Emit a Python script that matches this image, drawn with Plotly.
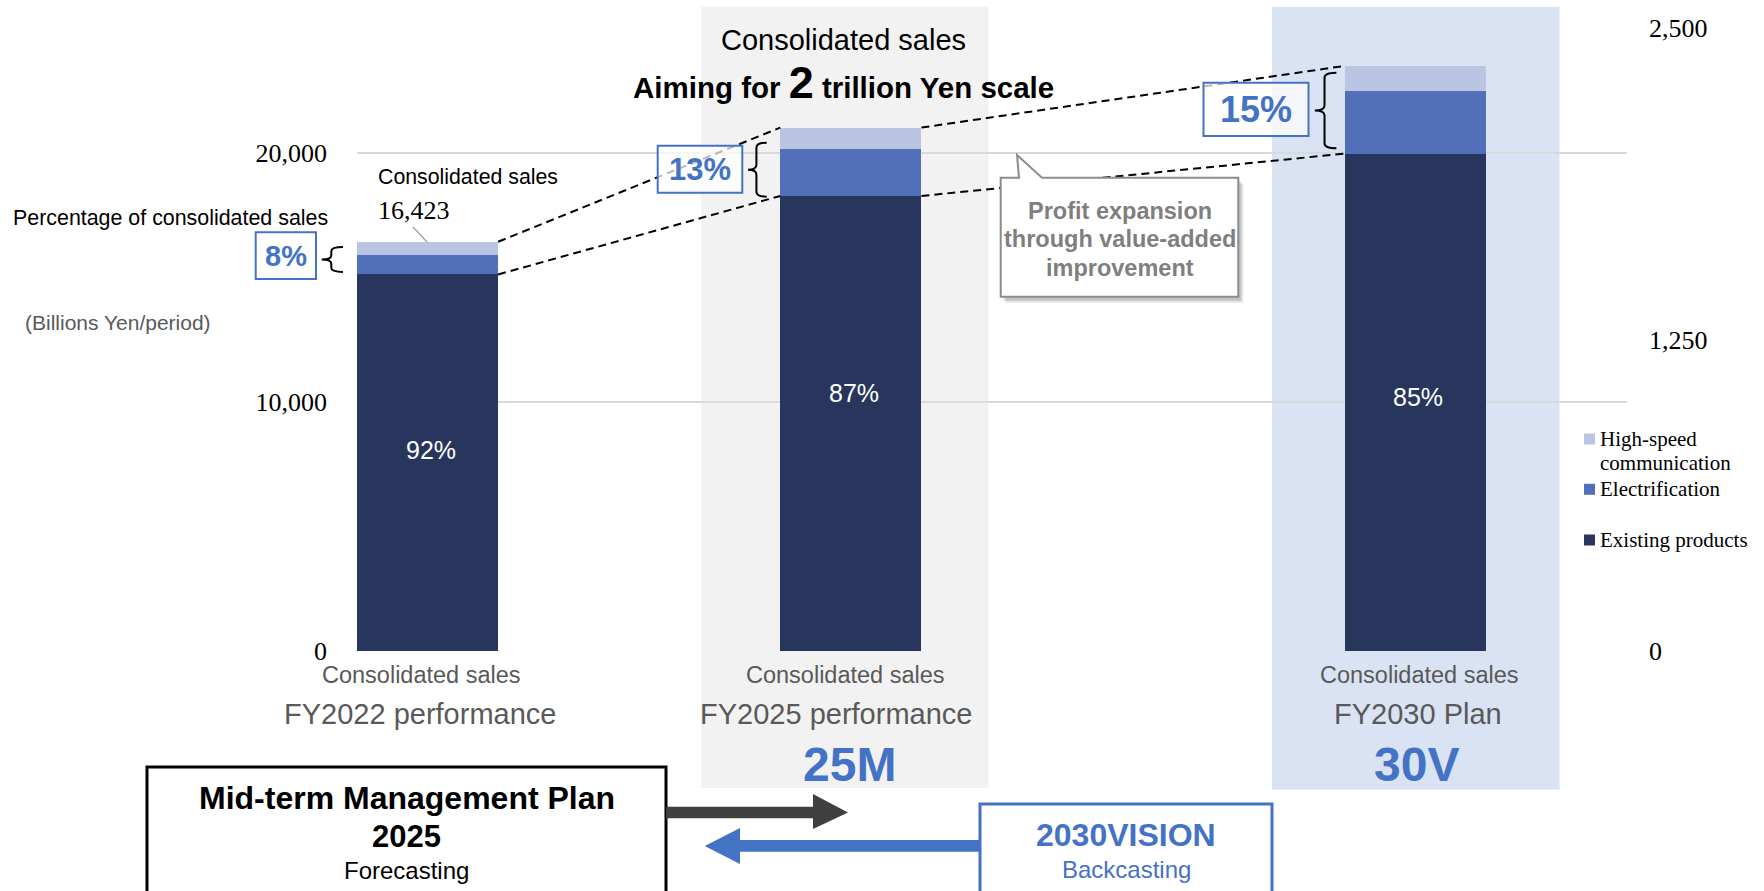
import plotly.graph_objects as go

# ---------------- data ----------------
periods = ["FY2022 performance", "FY2025 performance", "FY2030 Plan"]
period_tags = ["", "25M", "30V"]
sub_label = "Consolidated sales"
series_names = ["Existing products", "Electrification", "High-speed communication"]
existing = [15110, 18260, 19960]
electrification = [800, 1890, 2530]
high_speed = [513, 855, 990]
left_ticks = [0, 10000, 20000]
right_ticks = [0, 1250, 2500]
legend_labels = ["High-speed<br>communication", "Electrification", "Existing products"]

# ---------------- layout constants ----------------
W, H = 1764, 891
ML, MR, MT, MB = 357, 137, 28, 240
PW = W - ML - MR
PH = H - MT - MB
x_pos = [0, 3, 7]
bar_w = 1.0
inbar_label_y = [8060, 10340, 10180]
sub_shift = [-6, -5, 4]
per_shift = [-8, -15, 3]
tag_shift = [0, -1, 1]

SANS = "Liberation Sans, Arial, sans-serif"
SERIF = "Liberation Serif, Times New Roman, serif"
C_EX, C_EL, C_HS = "#28365E", "#5270B9", "#B9C5E3"
BLUE = "#4472C4"
GREY_T = "#595959"


def px(x):
    return (x - ML) / PW


def py(y):
    return (H - MB - y) / PH


def P(x, y):
    return f"{px(x):.5f},{py(y):.5f}"


totals = [a + b + c for a, b, c in zip(existing, electrification, high_speed)]
pct_exist = [round(e / t * 100) for e, t in zip(existing, totals)]
pct_new = [100 - p for p in pct_exist]

fig = go.Figure()
for name, vals, col in zip(series_names, [existing, electrification, high_speed], [C_EX, C_EL, C_HS]):
    fig.add_trace(go.Bar(x=x_pos, y=vals, width=bar_w, name=name, marker_color=col,
                         marker_line_width=0, showlegend=False, hoverinfo="skip"))
# invisible trace to anchor right axis
fig.add_trace(go.Scatter(x=[None], y=[None], yaxis="y2", showlegend=False, hoverinfo="skip"))

shapes = []
annots = []

# highlight panels
shapes.append(dict(type="rect", xref="paper", yref="paper", x0=px(701), x1=px(988.5), y0=py(788), y1=py(6.7),
                   fillcolor="#F2F2F2", line_width=0, layer="below"))
shapes.append(dict(type="rect", xref="paper", yref="paper", x0=px(1272), x1=px(1559.5), y0=py(789.5), y1=py(6.7),
                   fillcolor="#DAE3F3", line_width=0, layer="below"))

# dashed connector lines between bars
for i in range(len(x_pos) - 1):
    for yv in (totals, existing):
        shapes.append(dict(type="line", xref="x", yref="y",
                           x0=x_pos[i] + bar_w / 2, y0=yv[i], x1=x_pos[i + 1] - bar_w / 2, y1=yv[i + 1],
                           line=dict(color="black", width=2, dash="8px,5px")))

# percentage boxes
box_geo = [(255.7, 316, 232.3, 279, 29), (657.7, 742.3, 145.7, 192.7, 31), (1203.5, 1308.5, 82.7, 136, 36)]
for (x0, x1, y0, y1, fs), p in zip(box_geo, pct_new):
    shapes.append(dict(type="rect", xref="paper", yref="paper", x0=px(x0), x1=px(x1), y0=py(y1), y1=py(y0),
                       fillcolor="rgba(255,255,255,0.72)", line=dict(color=BLUE, width=2)))
    annots.append(dict(text=f"<b>{p}%</b>", x=px((x0 + x1) / 2), y=py((y0 + y1) / 2), font=dict(size=fs, color=BLUE, family=SANS)))


def brace(xt, xe, yt, yb):
    xs = xt + 0.45 * (xe - xt)
    ym = (yt + yb) / 2
    r = min(5, (yb - yt) / 6)
    return ("M " + P(xe, yt) + " Q " + P(xs, yt) + " " + P(xs, yt + r) + " L " + P(xs, ym - r) +
            " Q " + P(xs, ym) + " " + P(xt, ym) + " Q " + P(xs, ym) + " " + P(xs, ym + r) +
            " L " + P(xs, yb - r) + " Q " + P(xs, yb) + " " + P(xe, yb))


for b in [(321.7, 343, 247, 272), (748, 766.7, 142.7, 196.7), (1314.8, 1336.4, 72.7, 148.3)]:
    shapes.append(dict(type="path", xref="paper", yref="paper", path=brace(*b), line=dict(color="black", width=2)))

# leader line for total label
shapes.append(dict(type="line", xref="paper", yref="paper", x0=px(413), y0=py(227), x1=px(427), y1=py(242),
                   line=dict(color="#A6A6A6", width=1.5)))

# callout
def callout(dx, dy):
    pts = [(1000.7, 177.7), (1019, 177.7), (1017, 155), (1042, 177.7), (1238.3, 177.7), (1238.3, 296.7), (1000.7, 296.7)]
    return "M " + " L ".join(P(x + dx, y + dy) for x, y in pts) + " Z"


shapes.append(dict(type="path", xref="paper", yref="paper", path=callout(5, 6), fillcolor="rgba(0,0,0,0.10)", line_width=0))
shapes.append(dict(type="path", xref="paper", yref="paper", path=callout(3, 4), fillcolor="rgba(0,0,0,0.15)", line_width=0))
shapes.append(dict(type="path", xref="paper", yref="paper", path=callout(0, 0), fillcolor="white",
                   line=dict(color="#8C8C8C", width=2)))
for t, yy in zip(["Profit expansion", "through value-added", "improvement"], [210.5, 239.3, 268]):
    annots.append(dict(text=f"<b>{t}</b>", x=px(1119.5), y=py(yy), font=dict(size=23.5, color="#7F7F7F", family=SANS)))

# bottom boxes and arrows
shapes.append(dict(type="rect", xref="paper", yref="paper", x0=px(147), x1=px(666), y0=py(905), y1=py(767),
                   fillcolor="white", line=dict(color="black", width=3)))
dark_arrow = [(666, 806.7), (813, 806.7), (813, 794), (848, 812.5), (813, 829), (813, 818.3), (666, 818.3)]
shapes.append(dict(type="path", xref="paper", yref="paper", path="M " + " L ".join(P(*q) for q in dark_arrow) + " Z",
                   fillcolor="#404040", line_width=0))
blue_arrow = [(982, 840), (740, 840), (740, 828), (704.7, 846), (740, 864), (740, 851.7), (982, 851.7)]
shapes.append(dict(type="path", xref="paper", yref="paper", path="M " + " L ".join(P(*q) for q in blue_arrow) + " Z",
                   fillcolor=BLUE, line_width=0))
shapes.append(dict(type="rect", xref="paper", yref="paper", x0=px(980), x1=px(1272), y0=py(905), y1=py(804),
                   fillcolor="white", line=dict(color=BLUE, width=3)))
annots.append(dict(text="<b>Mid-term Management Plan</b>", x=px(406.5), y=py(797.5), font=dict(size=32, color="black", family=SANS)))
annots.append(dict(text="<b>2025</b>", x=px(406.5), y=py(836.7), font=dict(size=31, color="black", family=SANS)))
annots.append(dict(text="Forecasting", x=px(406.5), y=py(870.7), font=dict(size=24, color="black", family=SANS)))
annots.append(dict(text="<b>2030VISION</b>", x=px(1126), y=py(835), font=dict(size=32, color=BLUE, family=SANS)))
annots.append(dict(text="Backcasting", x=px(1126), y=py(869), font=dict(size=24, color=BLUE, family=SANS)))

# titles
annots.append(dict(text="Consolidated sales", x=px(843), y=py(40), font=dict(size=29, color="black", family=SANS)))
annots.append(dict(text="<b>Aiming for <span style='font-size:45px'>2</span> trillion Yen scale</b>",
                   x=px(843), y=py(82.5), font=dict(size=29.5, color="black", family=SANS)))

# left side texts
annots.append(dict(text="Percentage of consolidated sales", x=px(10.5), y=py(218), xanchor="left",
                   font=dict(size=21.4, color="black", family=SANS)))
annots.append(dict(text="(Billions Yen/period)", x=px(22.7), y=py(322.7), xanchor="left",
                   font=dict(size=21, color=GREY_T, family=SANS)))
annots.append(dict(text=sub_label, x=px(376), y=py(177), xanchor="left", font=dict(size=21.3, color="black", family=SANS)))
annots.append(dict(text=f"{totals[0]:,}", x=px(376), y=py(210.7), xanchor="left", font=dict(size=26, color="black", family=SERIF)))

# in-bar percentage labels
for xv, yv, p in zip(x_pos, inbar_label_y, pct_exist):
    annots.append(dict(text=f"{p}%", x=xv, y=yv, xref="x", yref="y", xshift=3, font=dict(size=25, color="white", family=SANS)))

# category labels
for xv, per, tag, s1, s2, s3 in zip(x_pos, periods, period_tags, sub_shift, per_shift, tag_shift):
    annots.append(dict(text=sub_label, x=xv, xref="x", y=py(675), font=dict(size=23.5, color=GREY_T, family=SANS), xshift=s1))
    annots.append(dict(text=per, x=xv, xref="x", y=py(714), font=dict(size=29, color=GREY_T, family=SANS), xshift=s2))
    if tag:
        annots.append(dict(text=f"<b>{tag}</b>", x=xv, xref="x", y=py(764), xshift=s3,
                           font=dict(size=48, color=BLUE, family=SANS)))

# legend (manual)
leg_cols = [C_HS, C_EL, C_EX]
leg_y = [439, 489.3, 540]
for lab, col, yy in zip(legend_labels, leg_cols, leg_y):
    shapes.append(dict(type="rect", xref="paper", yref="paper", x0=px(1584), x1=px(1595), y0=py(yy + 5.5), y1=py(yy - 5.5),
                       fillcolor=col, line_width=0))
    for k, line in enumerate(lab.split("<br>")):
        annots.append(dict(text=line, x=px(1598), y=py(yy + k * 23.7), xanchor="left",
                           font=dict(size=21, color="black", family=SERIF)))

for a in annots:
    a.setdefault("xref", "paper")
    a.setdefault("yref", "paper")
    a.setdefault("xanchor", "center")
    a.setdefault("yanchor", "middle")
    a["showarrow"] = False

fig.update_layout(
    width=W, height=H,
    margin=dict(l=ML, r=MR, t=MT, b=MB, pad=0),
    paper_bgcolor="white", plot_bgcolor="rgba(0,0,0,0)",
    barmode="stack", bargap=0,
    xaxis=dict(range=[-0.5, 8.5], showticklabels=False, showgrid=False, zeroline=False, ticks="", fixedrange=True),
    yaxis=dict(range=[0, 25000], tickvals=left_ticks, ticktext=[f"{v:,}" for v in left_ticks],
               showgrid=True, gridcolor="#D9D9D9", gridwidth=1.5, zeroline=False, ticks="",
               ticklabelstandoff=29, tickfont=dict(family=SERIF, size=26, color="black")),
    yaxis2=dict(range=[0, 2500], overlaying="y", side="right", anchor="x", tickvals=right_ticks,
                ticktext=[f"{v:,}" for v in right_ticks], showgrid=False, zeroline=False, ticks="",
                ticklabelstandoff=21, tickfont=dict(family=SERIF, size=26, color="black")),
    shapes=shapes, annotations=annots, showlegend=False,
)

fig.write_html("out.html")
